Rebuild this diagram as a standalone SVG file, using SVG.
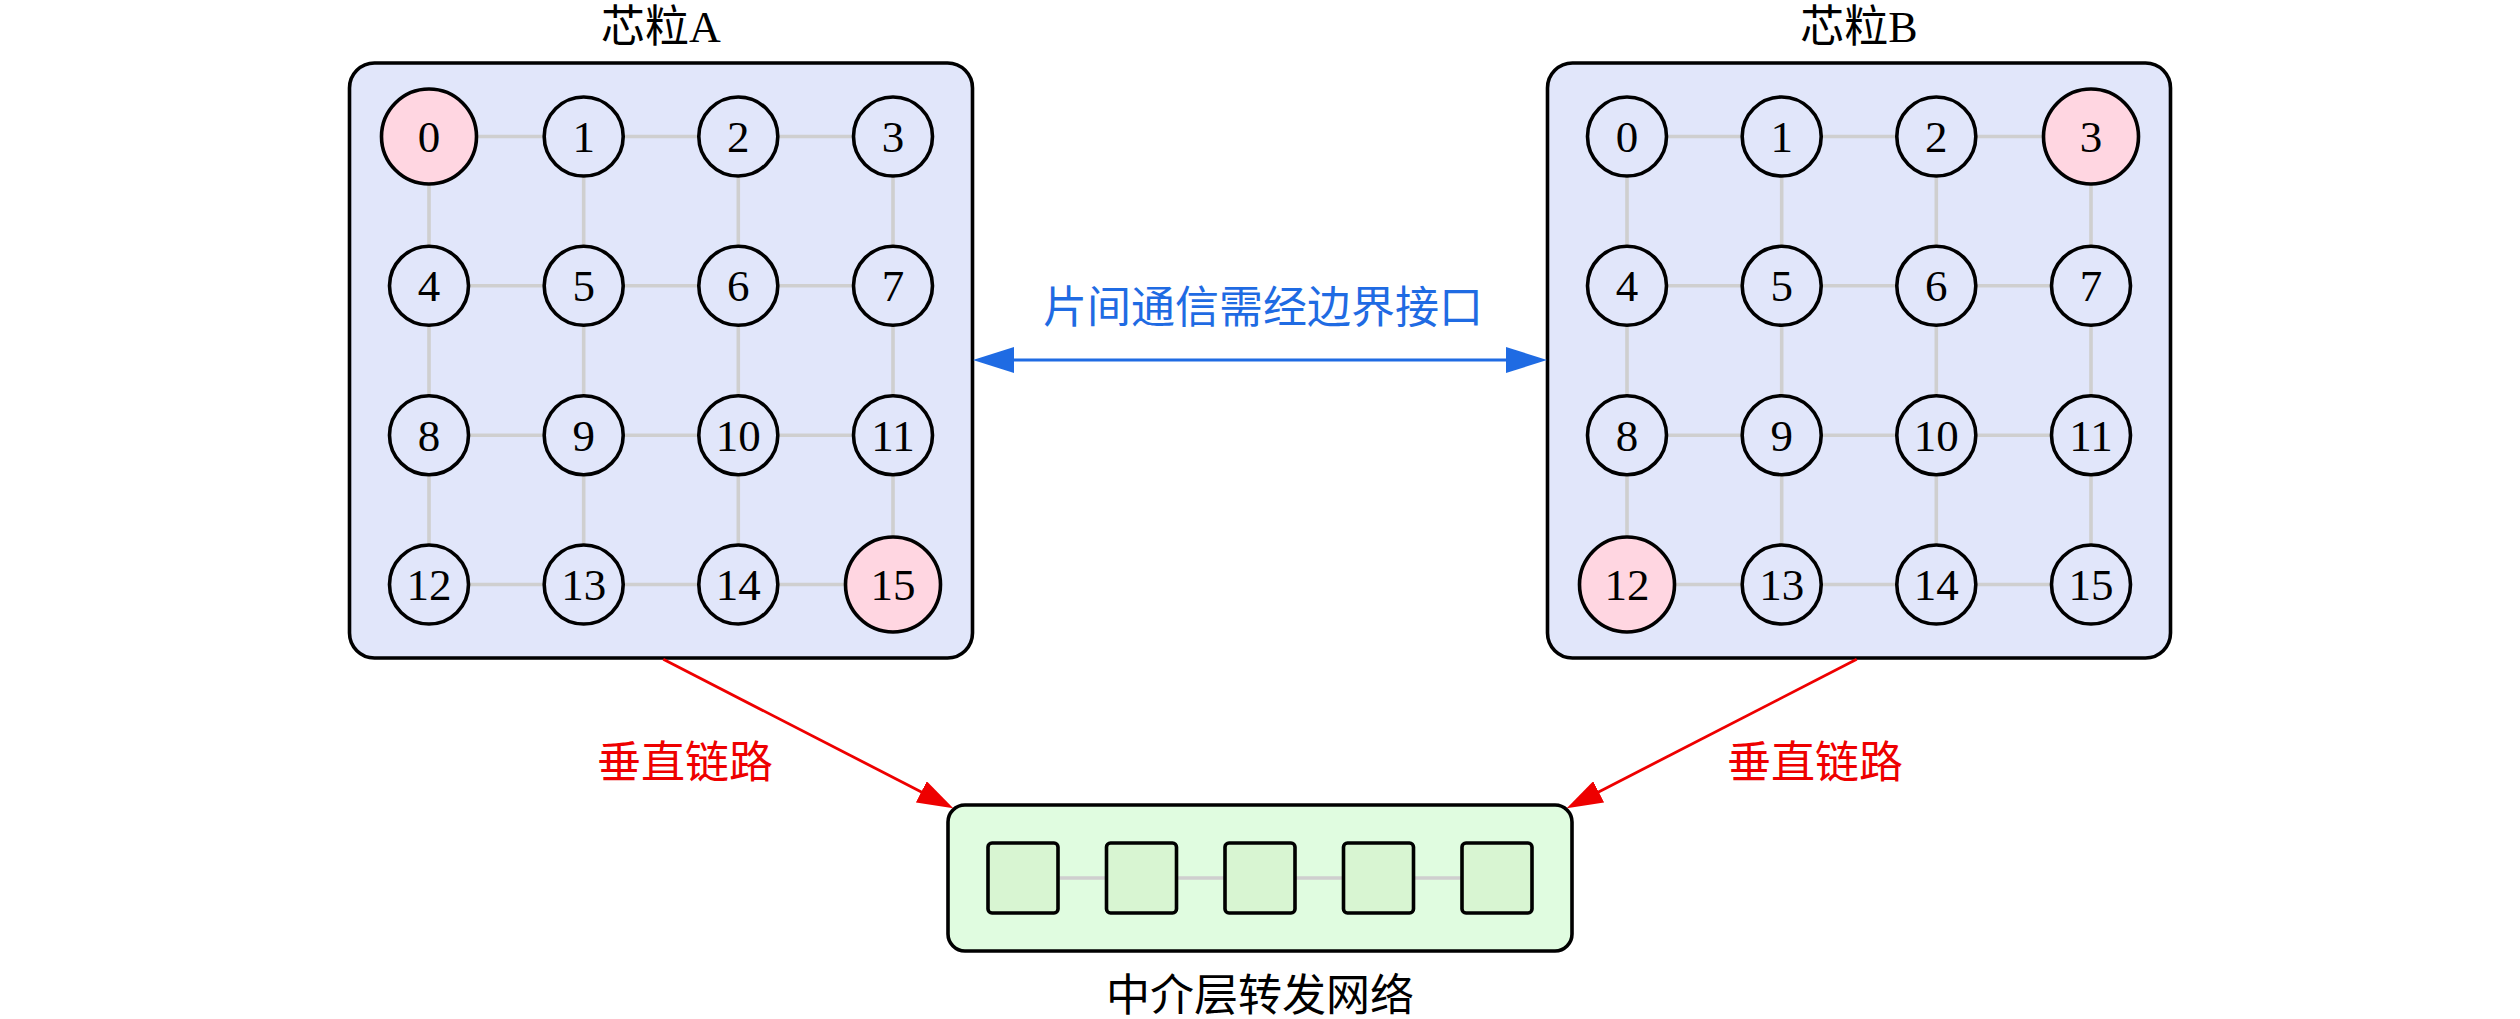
<svg xmlns="http://www.w3.org/2000/svg" width="2520" height="1019" viewBox="0 0 2520 1019">
<style>
.chip{fill:#e1e6fa;stroke:#000;stroke-width:3.6}
.mid{fill:#e0fce0;stroke:#000;stroke-width:3.6}
.title{font-family:"Liberation Serif","Noto Sans CJK SC",serif;font-size:44px;fill:#000;text-anchor:middle}
.grid{stroke:#cfcfcf;stroke-width:3.6;fill:none}
.n circle{fill:#e1e6fa;stroke:#000;stroke-width:3.6}
.n.hl circle{fill:#ffd6e1}
.n text{font-family:"Liberation Serif",serif;font-size:45px;fill:#000;text-anchor:middle}
.sq rect{fill:#d8f5d2;stroke:#000;stroke-width:3.6}
.blue{stroke:#1f6be3;stroke-width:3.2;fill:none}
.red{stroke:#ee0000;stroke-width:2.8;fill:none}
.lblb{font-family:"Noto Sans CJK SC",sans-serif;font-size:44px;fill:#1f6be3;text-anchor:middle}
.lblr{font-family:"Noto Sans CJK SC",sans-serif;font-size:44px;fill:#ee0000;text-anchor:middle}
</style>
<defs>
<marker id="ab" markerUnits="userSpaceOnUse" markerWidth="41" markerHeight="26" viewBox="0 0 41 26" refX="14" refY="13" orient="auto-start-reverse">
<path d="M0,0 L41,13 L0,26 z" fill="#1f6be3"/>
</marker>
<marker id="ar" markerUnits="userSpaceOnUse" markerWidth="36" markerHeight="24" viewBox="0 0 36 24" refX="16" refY="12" orient="auto">
<path d="M0,0 L36,12 L0,24 z" fill="#ee0000"/>
</marker>
</defs>
<rect width="2520" height="1019" fill="#fff"/>

<g id="chipA">
<rect class="chip" x="349.5" y="63" width="623" height="595" rx="25"/>
<text class="title" x="661" y="42">芯粒A</text>
</g>
<g id="chipB">
<rect class="chip" x="1547.5" y="63" width="623" height="595" rx="25"/>
<text class="title" x="1859" y="42">芯粒B</text>
</g>
<g id="interposer">
<rect class="mid" x="948" y="805" width="624" height="146" rx="17"/>
<text class="title" x="1260" y="1011">中介层转发网络</text>
</g>

<g id="connectors">
<g class="grid">
<path d="M429,136.5H893M429,285.8H893M429,435.2H893M429,584.5H893M429,136.5V584.5M583.7,136.5V584.5M738.3,136.5V584.5M893,136.5V584.5"/>
<path d="M1627,136.5H2091M1627,285.8H2091M1627,435.2H2091M1627,584.5H2091M1627,136.5V584.5M1781.7,136.5V584.5M1936.3,136.5V584.5M2091,136.5V584.5"/>
<path d="M1023,878H1497"/>
</g>
<g id="link-AB">
<line class="blue" x1="1000" y1="360" x2="1520" y2="360" marker-start="url(#ab)" marker-end="url(#ab)"/>
<text class="lblb" x="1263" y="323">片间通信需经边界接口</text>
</g>
<g id="link-A-mid">
<line class="red" x1="663.3" y1="659.3" x2="935.5" y2="799.2" marker-end="url(#ar)"/>
<text class="lblr" x="685" y="778">垂直链路</text>
</g>
<g id="link-B-mid">
<line class="red" x1="1856.7" y1="659.3" x2="1584.5" y2="799.2" marker-end="url(#ar)"/>
<text class="lblr" x="1815" y="778">垂直链路</text>
</g>
</g>

<g id="A0" class="n hl"><circle cx="429" cy="136.5" r="47.5"/><text x="429" y="152">0</text></g>
<g id="A1" class="n"><circle cx="583.7" cy="136.5" r="39.5"/><text x="583.7" y="152">1</text></g>
<g id="A2" class="n"><circle cx="738.3" cy="136.5" r="39.5"/><text x="738.3" y="152">2</text></g>
<g id="A3" class="n"><circle cx="893" cy="136.5" r="39.5"/><text x="893" y="152">3</text></g>
<g id="A4" class="n"><circle cx="429" cy="285.8" r="39.5"/><text x="429" y="301.3">4</text></g>
<g id="A5" class="n"><circle cx="583.7" cy="285.8" r="39.5"/><text x="583.7" y="301.3">5</text></g>
<g id="A6" class="n"><circle cx="738.3" cy="285.8" r="39.5"/><text x="738.3" y="301.3">6</text></g>
<g id="A7" class="n"><circle cx="893" cy="285.8" r="39.5"/><text x="893" y="301.3">7</text></g>
<g id="A8" class="n"><circle cx="429" cy="435.2" r="39.5"/><text x="429" y="450.7">8</text></g>
<g id="A9" class="n"><circle cx="583.7" cy="435.2" r="39.5"/><text x="583.7" y="450.7">9</text></g>
<g id="A10" class="n"><circle cx="738.3" cy="435.2" r="39.5"/><text x="738.3" y="450.7">10</text></g>
<g id="A11" class="n"><circle cx="893" cy="435.2" r="39.5"/><text x="893" y="450.7">11</text></g>
<g id="A12" class="n"><circle cx="429" cy="584.5" r="39.5"/><text x="429" y="600">12</text></g>
<g id="A13" class="n"><circle cx="583.7" cy="584.5" r="39.5"/><text x="583.7" y="600">13</text></g>
<g id="A14" class="n"><circle cx="738.3" cy="584.5" r="39.5"/><text x="738.3" y="600">14</text></g>
<g id="A15" class="n hl"><circle cx="893" cy="584.5" r="47.5"/><text x="893" y="600">15</text></g>

<g id="B0" class="n"><circle cx="1627" cy="136.5" r="39.5"/><text x="1627" y="152">0</text></g>
<g id="B1" class="n"><circle cx="1781.7" cy="136.5" r="39.5"/><text x="1781.7" y="152">1</text></g>
<g id="B2" class="n"><circle cx="1936.3" cy="136.5" r="39.5"/><text x="1936.3" y="152">2</text></g>
<g id="B3" class="n hl"><circle cx="2091" cy="136.5" r="47.5"/><text x="2091" y="152">3</text></g>
<g id="B4" class="n"><circle cx="1627" cy="285.8" r="39.5"/><text x="1627" y="301.3">4</text></g>
<g id="B5" class="n"><circle cx="1781.7" cy="285.8" r="39.5"/><text x="1781.7" y="301.3">5</text></g>
<g id="B6" class="n"><circle cx="1936.3" cy="285.8" r="39.5"/><text x="1936.3" y="301.3">6</text></g>
<g id="B7" class="n"><circle cx="2091" cy="285.8" r="39.5"/><text x="2091" y="301.3">7</text></g>
<g id="B8" class="n"><circle cx="1627" cy="435.2" r="39.5"/><text x="1627" y="450.7">8</text></g>
<g id="B9" class="n"><circle cx="1781.7" cy="435.2" r="39.5"/><text x="1781.7" y="450.7">9</text></g>
<g id="B10" class="n"><circle cx="1936.3" cy="435.2" r="39.5"/><text x="1936.3" y="450.7">10</text></g>
<g id="B11" class="n"><circle cx="2091" cy="435.2" r="39.5"/><text x="2091" y="450.7">11</text></g>
<g id="B12" class="n hl"><circle cx="1627" cy="584.5" r="47.5"/><text x="1627" y="600">12</text></g>
<g id="B13" class="n"><circle cx="1781.7" cy="584.5" r="39.5"/><text x="1781.7" y="600">13</text></g>
<g id="B14" class="n"><circle cx="1936.3" cy="584.5" r="39.5"/><text x="1936.3" y="600">14</text></g>
<g id="B15" class="n"><circle cx="2091" cy="584.5" r="39.5"/><text x="2091" y="600">15</text></g>

<g id="S0" class="sq"><rect x="988" y="843" width="70" height="70" rx="4"/></g>
<g id="S1" class="sq"><rect x="1106.5" y="843" width="70" height="70" rx="4"/></g>
<g id="S2" class="sq"><rect x="1225" y="843" width="70" height="70" rx="4"/></g>
<g id="S3" class="sq"><rect x="1343.5" y="843" width="70" height="70" rx="4"/></g>
<g id="S4" class="sq"><rect x="1462" y="843" width="70" height="70" rx="4"/></g>
</svg>
